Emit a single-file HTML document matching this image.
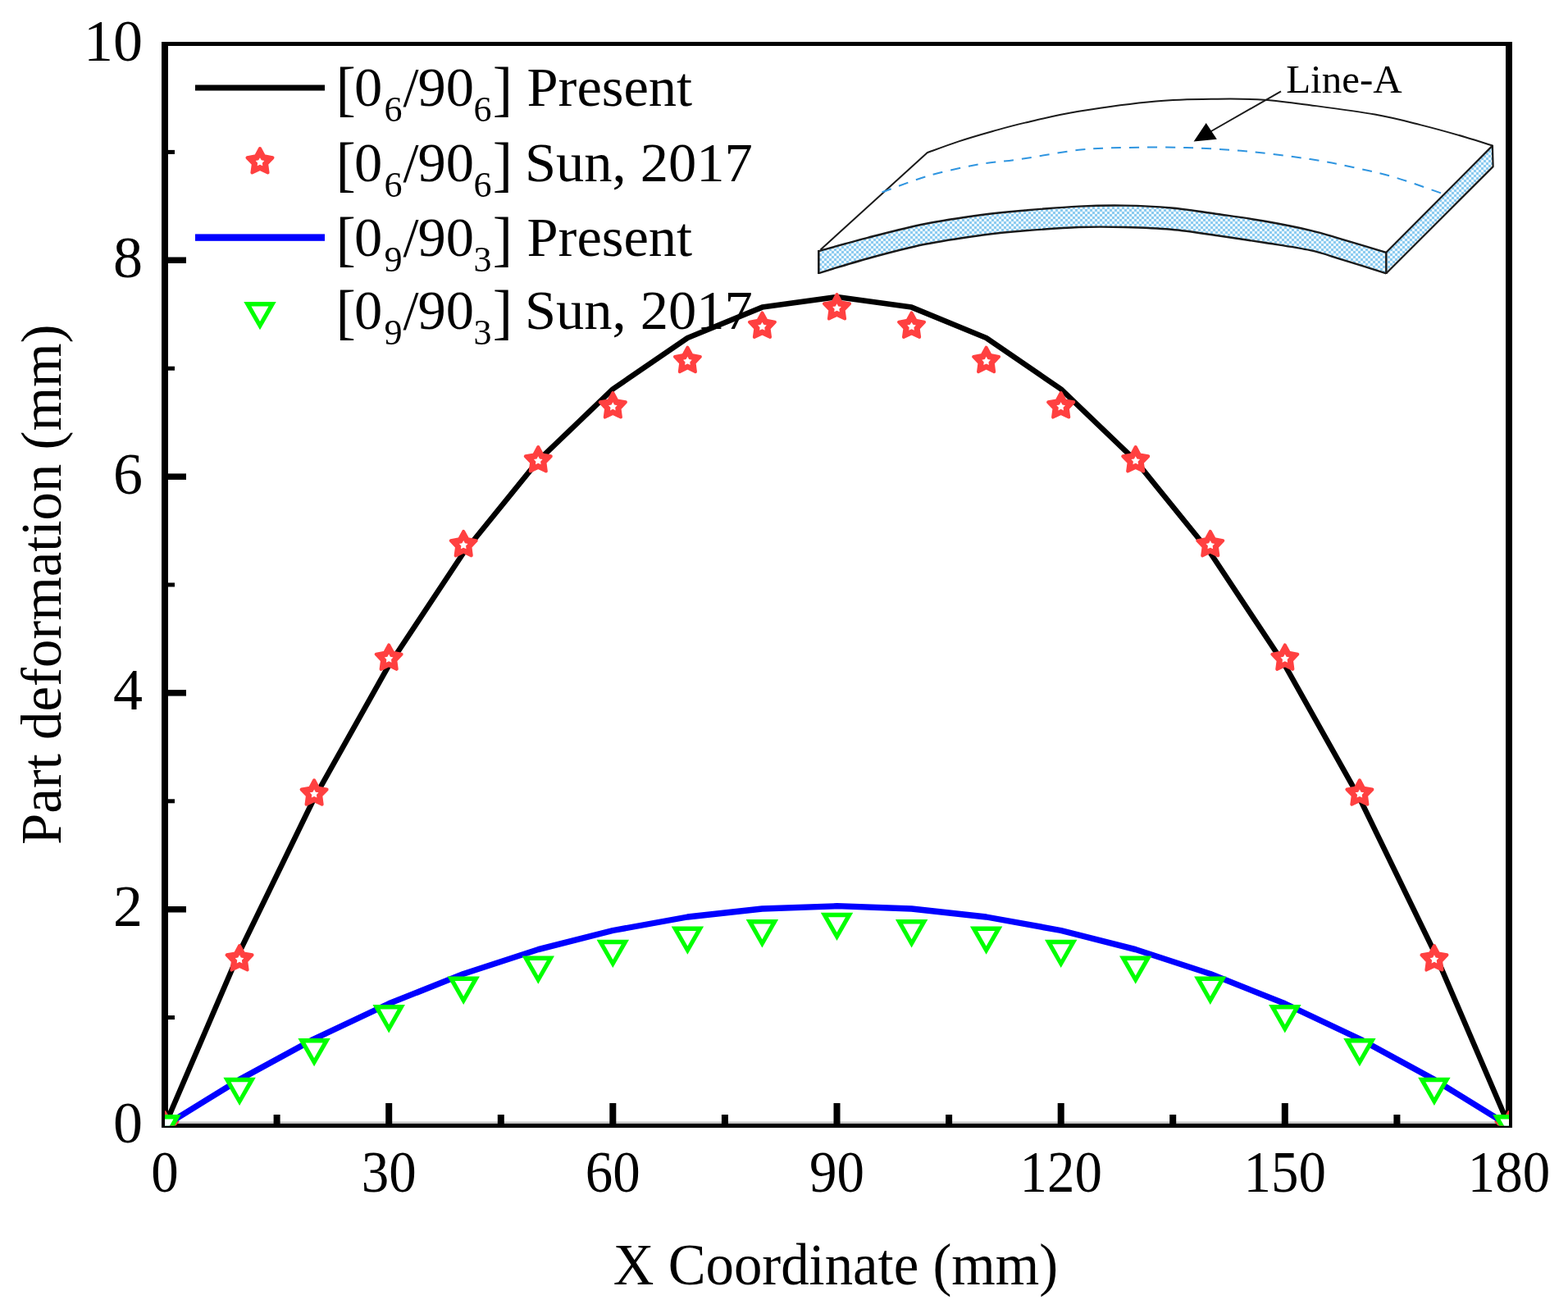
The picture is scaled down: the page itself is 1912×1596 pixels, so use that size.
<!DOCTYPE html>
<html><head><meta charset="utf-8"><title>Part deformation chart</title><style>html,body{margin:0;padding:0;background:#fff;}svg{display:block;}</style></head><body>
<svg width="1912" height="1596" viewBox="0 0 1912 1596">
<defs><clipPath id="pc"><rect x="201.0" y="53.5" width="1639.0" height="1319.0"/></clipPath>
<pattern id="hatch" width="6" height="6" patternUnits="userSpaceOnUse"><rect width="6" height="6" fill="#eef8fd"/><rect width="3" height="3" fill="#8ccbf0"/><rect x="3" y="3" width="3" height="3" fill="#8ccbf0"/></pattern></defs>
<rect width="1912" height="1596" fill="#ffffff"/>
<path d="M998.3,306.1 C1008.4,303.4 1037.3,295.1 1058.9,289.6 C1080.5,284.1 1104.9,277.6 1127.9,273.0 C1150.9,268.4 1176.5,264.8 1196.8,262.0 C1217.1,259.2 1230.2,258.2 1250.0,256.5 C1269.8,254.8 1295.0,252.6 1315.3,251.6 C1335.6,250.6 1353.0,250.3 1371.8,250.6 C1390.6,250.9 1409.5,251.8 1428.3,253.5 C1447.1,255.2 1466.0,258.3 1484.8,261.0 C1503.6,263.7 1522.5,266.2 1541.3,269.5 C1560.1,272.8 1582.1,277.2 1597.7,280.8 C1613.3,284.4 1619.7,286.8 1635.1,291.3 C1650.5,295.8 1681.1,305.1 1690.3,307.8 L1690.3,333.3 C1681.1,330.4 1650.5,320.8 1635.1,316.1 C1619.7,311.4 1613.3,308.6 1597.7,305.2 C1582.1,301.8 1560.1,298.8 1541.3,295.8 C1522.5,292.8 1503.6,290.0 1484.8,287.3 C1466.0,284.6 1447.1,281.5 1428.3,279.8 C1409.5,278.1 1390.6,277.5 1371.8,277.0 C1353.0,276.5 1335.6,276.3 1315.3,277.0 C1295.0,277.7 1269.8,279.7 1250.0,281.3 C1230.2,282.9 1217.1,284.1 1196.8,286.8 C1176.5,289.6 1150.9,293.1 1127.9,297.8 C1104.9,302.5 1080.5,309.1 1058.9,315.0 C1037.3,320.9 1008.4,330.0 998.3,333.0 Z" fill="url(#hatch)" stroke="none"/>
<polygon points="1690.3,307.8 1819.9,177.6 1820.6,203.1 1690.3,333.3" fill="url(#hatch)" stroke="none"/>
<path d="M1000.5,304.5 L1130.6,186.2 L1130.6,186.2 C1137.0,183.9 1155.9,176.8 1169.2,172.4 C1182.5,168.0 1197.1,163.8 1210.6,160.0 C1224.1,156.2 1232.5,153.6 1250.0,149.6 C1267.5,145.6 1288.7,140.2 1315.3,135.8 C1341.9,131.5 1381.2,126.0 1409.5,123.5 C1437.8,121.0 1462.8,121.0 1484.8,120.7 C1506.8,120.4 1522.5,120.5 1541.3,121.7 C1560.1,123.0 1575.2,125.2 1597.7,128.2 C1620.2,131.2 1654.2,135.6 1676.5,139.6 C1698.8,143.6 1713.2,147.5 1731.6,152.1 C1750.0,156.7 1772.1,162.9 1786.8,167.2 C1801.5,171.4 1814.4,175.9 1819.9,177.6" fill="none" stroke="#1a1a1a" stroke-width="2" stroke-linejoin="round"/>
<path d="M998.3,306.1 C1008.4,303.4 1037.3,295.1 1058.9,289.6 C1080.5,284.1 1104.9,277.6 1127.9,273.0 C1150.9,268.4 1176.5,264.8 1196.8,262.0 C1217.1,259.2 1230.2,258.2 1250.0,256.5 C1269.8,254.8 1295.0,252.6 1315.3,251.6 C1335.6,250.6 1353.0,250.3 1371.8,250.6 C1390.6,250.9 1409.5,251.8 1428.3,253.5 C1447.1,255.2 1466.0,258.3 1484.8,261.0 C1503.6,263.7 1522.5,266.2 1541.3,269.5 C1560.1,272.8 1582.1,277.2 1597.7,280.8 C1613.3,284.4 1619.7,286.8 1635.1,291.3 C1650.5,295.8 1681.1,305.1 1690.3,307.8" fill="none" stroke="#1a1a1a" stroke-width="2.4"/>
<path d="M998.3,333.0 C1008.4,330.0 1037.3,320.9 1058.9,315.0 C1080.5,309.1 1104.9,302.5 1127.9,297.8 C1150.9,293.1 1176.5,289.6 1196.8,286.8 C1217.1,284.1 1230.2,282.9 1250.0,281.3 C1269.8,279.7 1295.0,277.7 1315.3,277.0 C1335.6,276.3 1353.0,276.5 1371.8,277.0 C1390.6,277.5 1409.5,278.1 1428.3,279.8 C1447.1,281.5 1466.0,284.6 1484.8,287.3 C1503.6,290.0 1522.5,292.8 1541.3,295.8 C1560.1,298.8 1582.1,301.8 1597.7,305.2 C1613.3,308.6 1619.7,311.4 1635.1,316.1 C1650.5,320.8 1681.1,330.4 1690.3,333.3" fill="none" stroke="#1a1a1a" stroke-width="2.4"/>
<polyline points="998.3,305.0 998.3,334.0" fill="none" stroke="#1a1a1a" stroke-width="2.6"/>
<polyline points="1690.3,307.0 1690.3,334.0" fill="none" stroke="#1a1a1a" stroke-width="2.4"/>
<polyline points="1690.3,307.8 1819.9,177.6 1820.6,203.1 1690.3,333.3" fill="none" stroke="#1a1a1a" stroke-width="2.2" stroke-linejoin="round"/>
<path d="M1075.5,234.4 C1084.6,231.2 1110.9,220.6 1130.0,215.0 C1149.1,209.4 1171.0,204.5 1190.0,201.0 C1209.0,197.5 1222.9,197.1 1243.8,194.1 C1264.7,191.1 1294.0,185.2 1315.3,182.8 C1336.6,180.5 1349.8,180.5 1371.8,180.0 C1393.8,179.5 1421.9,179.2 1447.0,180.0 C1472.1,180.8 1497.3,182.3 1522.4,184.7 C1547.5,187.0 1576.4,190.9 1597.7,194.1 C1619.0,197.3 1633.0,200.3 1650.0,204.0 C1667.0,207.7 1681.8,210.7 1700.0,216.0 C1718.2,221.3 1749.3,232.8 1759.2,236.1" fill="none" stroke="#2f95e0" stroke-width="2" stroke-dasharray="12 10"/>
<line x1="1562" y1="111.3" x2="1476" y2="160.5" stroke="#1a1a1a" stroke-width="2"/>
<polygon points="1455.6,172.5 1470.7,149.9 1483.8,169.7" fill="#000"/>
<text x="1568.2" y="113.2" font-family="Liberation Serif, serif" font-size="49" fill="#000">Line-A</text>
<g fill="#000">
<rect x="197" y="51" width="8" height="1324"/>
<rect x="1836" y="51" width="8" height="1324"/>
<rect x="197" y="51" width="1647" height="5"/>
<rect x="197" y="1370" width="1647" height="5"/>
<rect x="205" y="1367.5" width="1631" height="2.5" fill="#c4c4c4"/>
<rect x="205" y="1238.1" width="8" height="5"/>
<rect x="205" y="1105.0" width="22" height="7.5"/>
<rect x="205" y="974.3" width="8" height="5"/>
<rect x="205" y="841.1" width="22" height="7.5"/>
<rect x="205" y="710.5" width="8" height="5"/>
<rect x="205" y="577.4" width="22" height="7.5"/>
<rect x="205" y="446.7" width="8" height="5"/>
<rect x="205" y="313.5" width="22" height="7.5"/>
<rect x="205" y="182.9" width="8" height="5"/>
<rect x="197.0" y="1345" width="8" height="25"/>
<rect x="333.6" y="1359" width="8" height="11"/>
<rect x="470.2" y="1345" width="8" height="25"/>
<rect x="606.8" y="1359" width="8" height="11"/>
<rect x="743.3" y="1345" width="8" height="25"/>
<rect x="879.9" y="1359" width="8" height="11"/>
<rect x="1016.5" y="1345" width="8" height="25"/>
<rect x="1153.1" y="1359" width="8" height="11"/>
<rect x="1289.7" y="1345" width="8" height="25"/>
<rect x="1426.2" y="1359" width="8" height="11"/>
<rect x="1562.8" y="1345" width="8" height="25"/>
<rect x="1699.4" y="1359" width="8" height="11"/>
<rect x="1836.0" y="1345" width="8" height="25"/>
</g>
<g clip-path="url(#pc)">
<polyline points="201.0,1372.5 292.1,1160.5 383.1,973.3 474.2,811.2 565.2,674.0 656.3,561.7 747.3,474.4 838.4,412.0 929.4,374.6 1020.5,362.1 1111.6,374.6 1202.6,412.0 1293.7,474.4 1384.7,561.7 1475.8,674.0 1566.8,811.2 1657.9,973.3 1748.9,1160.5 1840.0,1372.5" fill="none" stroke="#000" stroke-width="6.6" stroke-linejoin="round"/>
<path d="M201.00,1356.20 L206.05,1365.54 L216.50,1367.46 L209.18,1375.16 L210.58,1385.69 L201.00,1381.10 L191.42,1385.69 L192.82,1375.16 L185.50,1367.46 L195.95,1365.54 Z" fill="#ff4040" stroke="#ff4040" stroke-width="4" stroke-linejoin="round"/><path d="M201.00,1367.40 L202.76,1370.57 L206.33,1371.27 L203.85,1373.93 L204.29,1377.53 L201.00,1376.00 L197.71,1377.53 L198.15,1373.93 L195.67,1371.27 L199.24,1370.57 Z" fill="#fff"/>
<path d="M292.06,1153.07 L297.11,1162.42 L307.56,1164.34 L300.23,1172.03 L301.64,1182.56 L292.06,1177.97 L282.47,1182.56 L283.88,1172.03 L276.55,1164.34 L287.00,1162.42 Z" fill="#ff4040" stroke="#ff4040" stroke-width="4" stroke-linejoin="round"/><path d="M292.06,1164.27 L293.82,1167.45 L297.38,1168.14 L294.91,1170.80 L295.35,1174.40 L292.06,1172.87 L288.76,1174.40 L289.20,1170.80 L286.73,1168.14 L290.29,1167.45 Z" fill="#fff"/>
<path d="M383.11,951.27 L388.17,960.61 L398.61,962.53 L391.29,970.22 L392.69,980.75 L383.11,976.17 L373.53,980.75 L374.93,970.22 L367.61,962.53 L378.06,960.61 Z" fill="#ff4040" stroke="#ff4040" stroke-width="4" stroke-linejoin="round"/><path d="M383.11,962.47 L384.87,965.64 L388.44,966.34 L385.96,968.99 L386.40,972.60 L383.11,971.07 L379.82,972.60 L380.26,968.99 L377.79,966.34 L381.35,965.64 Z" fill="#fff"/>
<path d="M474.17,786.39 L479.22,795.73 L489.67,797.66 L482.35,805.35 L483.75,815.88 L474.17,811.29 L464.59,815.88 L465.99,805.35 L458.66,797.66 L469.11,795.73 Z" fill="#ff4040" stroke="#ff4040" stroke-width="4" stroke-linejoin="round"/><path d="M474.17,797.59 L475.93,800.76 L479.49,801.46 L477.02,804.12 L477.46,807.72 L474.17,806.19 L470.88,807.72 L471.31,804.12 L468.84,801.46 L472.40,800.76 Z" fill="#fff"/>
<path d="M565.22,647.90 L570.28,657.24 L580.72,659.16 L573.40,666.85 L574.80,677.38 L565.22,672.80 L555.64,677.38 L557.04,666.85 L549.72,659.16 L560.17,657.24 Z" fill="#ff4040" stroke="#ff4040" stroke-width="4" stroke-linejoin="round"/><path d="M565.22,659.10 L566.99,662.27 L570.55,662.97 L568.08,665.62 L568.51,669.23 L565.22,667.70 L561.93,669.23 L562.37,665.62 L559.90,662.97 L563.46,662.27 Z" fill="#fff"/>
<path d="M656.28,545.01 L661.33,554.36 L671.78,556.28 L664.46,563.97 L665.86,574.50 L656.28,569.91 L646.70,574.50 L648.10,563.97 L640.78,556.28 L651.22,554.36 Z" fill="#ff4040" stroke="#ff4040" stroke-width="4" stroke-linejoin="round"/><path d="M656.28,556.21 L658.04,559.39 L661.60,560.08 L659.13,562.74 L659.57,566.35 L656.28,564.81 L652.99,566.35 L653.42,562.74 L650.95,560.08 L654.51,559.39 Z" fill="#fff"/>
<path d="M747.33,479.06 L752.39,488.41 L762.84,490.33 L755.51,498.02 L756.91,508.55 L747.33,503.97 L737.75,508.55 L739.15,498.02 L731.83,490.33 L742.28,488.41 Z" fill="#ff4040" stroke="#ff4040" stroke-width="4" stroke-linejoin="round"/><path d="M747.33,490.26 L749.10,493.44 L752.66,494.13 L750.19,496.79 L750.62,500.40 L747.33,498.87 L744.04,500.40 L744.48,496.79 L742.01,494.13 L745.57,493.44 Z" fill="#fff"/>
<path d="M838.39,423.67 L843.44,433.01 L853.89,434.93 L846.57,442.62 L847.97,453.15 L838.39,448.57 L828.81,453.15 L830.21,442.62 L822.89,434.93 L833.33,433.01 Z" fill="#ff4040" stroke="#ff4040" stroke-width="4" stroke-linejoin="round"/><path d="M838.39,434.87 L840.15,438.04 L843.71,438.74 L841.24,441.39 L841.68,445.00 L838.39,443.47 L835.10,445.00 L835.54,441.39 L833.06,438.74 L836.63,438.04 Z" fill="#fff"/>
<path d="M929.44,381.46 L934.50,390.80 L944.95,392.72 L937.62,400.42 L939.03,410.95 L929.44,406.36 L919.86,410.95 L921.27,400.42 L913.94,392.72 L924.39,390.80 Z" fill="#ff4040" stroke="#ff4040" stroke-width="4" stroke-linejoin="round"/><path d="M929.44,392.66 L931.21,395.83 L934.77,396.53 L932.30,399.19 L932.74,402.79 L929.44,401.26 L926.15,402.79 L926.59,399.19 L924.12,396.53 L927.68,395.83 Z" fill="#fff"/>
<path d="M1020.50,359.04 L1025.55,368.38 L1036.00,370.30 L1028.68,377.99 L1030.08,388.52 L1020.50,383.94 L1010.92,388.52 L1012.32,377.99 L1005.00,370.30 L1015.45,368.38 Z" fill="#ff4040" stroke="#ff4040" stroke-width="4" stroke-linejoin="round"/><path d="M1020.50,370.24 L1022.26,373.41 L1025.83,374.11 L1023.35,376.76 L1023.79,380.37 L1020.50,378.84 L1017.21,380.37 L1017.65,376.76 L1015.17,374.11 L1018.74,373.41 Z" fill="#fff"/>
<path d="M1111.56,381.46 L1116.61,390.80 L1127.06,392.72 L1119.73,400.42 L1121.14,410.95 L1111.56,406.36 L1101.97,410.95 L1103.38,400.42 L1096.05,392.72 L1106.50,390.80 Z" fill="#ff4040" stroke="#ff4040" stroke-width="4" stroke-linejoin="round"/><path d="M1111.56,392.66 L1113.32,395.83 L1116.88,396.53 L1114.41,399.19 L1114.85,402.79 L1111.56,401.26 L1108.26,402.79 L1108.70,399.19 L1106.23,396.53 L1109.79,395.83 Z" fill="#fff"/>
<path d="M1202.61,423.67 L1207.67,433.01 L1218.11,434.93 L1210.79,442.62 L1212.19,453.15 L1202.61,448.57 L1193.03,453.15 L1194.43,442.62 L1187.11,434.93 L1197.56,433.01 Z" fill="#ff4040" stroke="#ff4040" stroke-width="4" stroke-linejoin="round"/><path d="M1202.61,434.87 L1204.37,438.04 L1207.94,438.74 L1205.46,441.39 L1205.90,445.00 L1202.61,443.47 L1199.32,445.00 L1199.76,441.39 L1197.29,438.74 L1200.85,438.04 Z" fill="#fff"/>
<path d="M1293.67,479.06 L1298.72,488.41 L1309.17,490.33 L1301.85,498.02 L1303.25,508.55 L1293.67,503.97 L1284.09,508.55 L1285.49,498.02 L1278.16,490.33 L1288.61,488.41 Z" fill="#ff4040" stroke="#ff4040" stroke-width="4" stroke-linejoin="round"/><path d="M1293.67,490.26 L1295.43,493.44 L1298.99,494.13 L1296.52,496.79 L1296.96,500.40 L1293.67,498.87 L1290.38,500.40 L1290.81,496.79 L1288.34,494.13 L1291.90,493.44 Z" fill="#fff"/>
<path d="M1384.72,545.01 L1389.78,554.36 L1400.22,556.28 L1392.90,563.97 L1394.30,574.50 L1384.72,569.91 L1375.14,574.50 L1376.54,563.97 L1369.22,556.28 L1379.67,554.36 Z" fill="#ff4040" stroke="#ff4040" stroke-width="4" stroke-linejoin="round"/><path d="M1384.72,556.21 L1386.49,559.39 L1390.05,560.08 L1387.58,562.74 L1388.01,566.35 L1384.72,564.81 L1381.43,566.35 L1381.87,562.74 L1379.40,560.08 L1382.96,559.39 Z" fill="#fff"/>
<path d="M1475.78,647.90 L1480.83,657.24 L1491.28,659.16 L1483.96,666.85 L1485.36,677.38 L1475.78,672.80 L1466.20,677.38 L1467.60,666.85 L1460.28,659.16 L1470.72,657.24 Z" fill="#ff4040" stroke="#ff4040" stroke-width="4" stroke-linejoin="round"/><path d="M1475.78,659.10 L1477.54,662.27 L1481.10,662.97 L1478.63,665.62 L1479.07,669.23 L1475.78,667.70 L1472.49,669.23 L1472.92,665.62 L1470.45,662.97 L1474.01,662.27 Z" fill="#fff"/>
<path d="M1566.83,786.39 L1571.89,795.73 L1582.34,797.66 L1575.01,805.35 L1576.41,815.88 L1566.83,811.29 L1557.25,815.88 L1558.65,805.35 L1551.33,797.66 L1561.78,795.73 Z" fill="#ff4040" stroke="#ff4040" stroke-width="4" stroke-linejoin="round"/><path d="M1566.83,797.59 L1568.60,800.76 L1572.16,801.46 L1569.69,804.12 L1570.12,807.72 L1566.83,806.19 L1563.54,807.72 L1563.98,804.12 L1561.51,801.46 L1565.07,800.76 Z" fill="#fff"/>
<path d="M1657.89,951.27 L1662.94,960.61 L1673.39,962.53 L1666.07,970.22 L1667.47,980.75 L1657.89,976.17 L1648.31,980.75 L1649.71,970.22 L1642.39,962.53 L1652.83,960.61 Z" fill="#ff4040" stroke="#ff4040" stroke-width="4" stroke-linejoin="round"/><path d="M1657.89,962.47 L1659.65,965.64 L1663.21,966.34 L1660.74,968.99 L1661.18,972.60 L1657.89,971.07 L1654.60,972.60 L1655.04,968.99 L1652.56,966.34 L1656.13,965.64 Z" fill="#fff"/>
<path d="M1748.94,1153.07 L1754.00,1162.42 L1764.45,1164.34 L1757.12,1172.03 L1758.53,1182.56 L1748.94,1177.97 L1739.36,1182.56 L1740.77,1172.03 L1733.44,1164.34 L1743.89,1162.42 Z" fill="#ff4040" stroke="#ff4040" stroke-width="4" stroke-linejoin="round"/><path d="M1748.94,1164.27 L1750.71,1167.45 L1754.27,1168.14 L1751.80,1170.80 L1752.24,1174.40 L1748.94,1172.87 L1745.65,1174.40 L1746.09,1170.80 L1743.62,1168.14 L1747.18,1167.45 Z" fill="#fff"/>
<path d="M1840.00,1356.20 L1845.05,1365.54 L1855.50,1367.46 L1848.18,1375.16 L1849.58,1385.69 L1840.00,1381.10 L1830.42,1385.69 L1831.82,1375.16 L1824.50,1367.46 L1834.95,1365.54 Z" fill="#ff4040" stroke="#ff4040" stroke-width="4" stroke-linejoin="round"/><path d="M1840.00,1367.40 L1841.76,1370.57 L1845.33,1371.27 L1842.85,1373.93 L1843.29,1377.53 L1840.00,1376.00 L1836.71,1377.53 L1837.15,1373.93 L1834.67,1371.27 L1838.24,1370.57 Z" fill="#fff"/>
<polyline points="201.0,1372.5 292.1,1316.3 383.1,1266.7 474.2,1223.7 565.2,1187.4 656.3,1157.6 747.3,1134.5 838.4,1118.0 929.4,1108.0 1020.5,1104.7 1111.6,1108.0 1202.6,1118.0 1293.7,1134.5 1384.7,1157.6 1475.8,1187.4 1566.8,1223.7 1657.9,1266.7 1748.9,1316.3 1840.0,1372.5" fill="none" stroke="#0000ff" stroke-width="7.3" stroke-linejoin="round"/>
<polygon points="181.3,1359.0 220.7,1359.0 201.0,1393.3" fill="#00ff00"/><polygon points="190.5,1364.5 211.5,1364.5 201.0,1383.1" fill="#fff"/>
<polygon points="272.4,1313.8 311.8,1313.8 292.1,1348.1" fill="#00ff00"/><polygon points="281.6,1319.3 302.6,1319.3 292.1,1337.9" fill="#fff"/>
<polygon points="363.4,1266.0 402.8,1266.0 383.1,1300.3" fill="#00ff00"/><polygon points="372.6,1271.5 393.6,1271.5 383.1,1290.1" fill="#fff"/>
<polygon points="454.5,1225.1 493.9,1225.1 474.2,1259.4" fill="#00ff00"/><polygon points="463.7,1230.6 484.7,1230.6 474.2,1249.2" fill="#fff"/>
<polygon points="545.5,1190.6 584.9,1190.6 565.2,1224.9" fill="#00ff00"/><polygon points="554.7,1196.1 575.7,1196.1 565.2,1214.7" fill="#fff"/>
<polygon points="636.6,1165.5 676.0,1165.5 656.3,1199.8" fill="#00ff00"/><polygon points="645.8,1171.0 666.8,1171.0 656.3,1189.6" fill="#fff"/>
<polygon points="727.6,1145.8 767.0,1145.8 747.3,1180.1" fill="#00ff00"/><polygon points="736.8,1151.3 757.8,1151.3 747.3,1169.9" fill="#fff"/>
<polygon points="818.7,1129.4 858.1,1129.4 838.4,1163.7" fill="#00ff00"/><polygon points="827.9,1134.9 848.9,1134.9 838.4,1153.5" fill="#fff"/>
<polygon points="909.7,1121.1 949.1,1121.1 929.4,1155.4" fill="#00ff00"/><polygon points="918.9,1126.6 939.9,1126.6 929.4,1145.2" fill="#fff"/>
<polygon points="1000.8,1112.7 1040.2,1112.7 1020.5,1147.0" fill="#00ff00"/><polygon points="1010.0,1118.2 1031.0,1118.2 1020.5,1136.8" fill="#fff"/>
<polygon points="1091.9,1121.1 1131.3,1121.1 1111.6,1155.4" fill="#00ff00"/><polygon points="1101.1,1126.6 1122.1,1126.6 1111.6,1145.2" fill="#fff"/>
<polygon points="1182.9,1129.4 1222.3,1129.4 1202.6,1163.7" fill="#00ff00"/><polygon points="1192.1,1134.9 1213.1,1134.9 1202.6,1153.5" fill="#fff"/>
<polygon points="1274.0,1145.8 1313.4,1145.8 1293.7,1180.1" fill="#00ff00"/><polygon points="1283.2,1151.3 1304.2,1151.3 1293.7,1169.9" fill="#fff"/>
<polygon points="1365.0,1165.5 1404.4,1165.5 1384.7,1199.8" fill="#00ff00"/><polygon points="1374.2,1171.0 1395.2,1171.0 1384.7,1189.6" fill="#fff"/>
<polygon points="1456.1,1190.6 1495.5,1190.6 1475.8,1224.9" fill="#00ff00"/><polygon points="1465.3,1196.1 1486.3,1196.1 1475.8,1214.7" fill="#fff"/>
<polygon points="1547.1,1225.1 1586.5,1225.1 1566.8,1259.4" fill="#00ff00"/><polygon points="1556.3,1230.6 1577.3,1230.6 1566.8,1249.2" fill="#fff"/>
<polygon points="1638.2,1266.0 1677.6,1266.0 1657.9,1300.3" fill="#00ff00"/><polygon points="1647.4,1271.5 1668.4,1271.5 1657.9,1290.1" fill="#fff"/>
<polygon points="1729.2,1313.8 1768.6,1313.8 1748.9,1348.1" fill="#00ff00"/><polygon points="1738.4,1319.3 1759.4,1319.3 1748.9,1337.9" fill="#fff"/>
<polygon points="1820.3,1359.0 1859.7,1359.0 1840.0,1393.3" fill="#00ff00"/><polygon points="1829.5,1364.5 1850.5,1364.5 1840.0,1383.1" fill="#fff"/>
</g>
<text x="174" y="1393.0" text-anchor="end" font-family="Liberation Serif, serif" font-size="72">0</text>
<text x="174" y="1129.2" text-anchor="end" font-family="Liberation Serif, serif" font-size="72">2</text>
<text x="174" y="865.4" text-anchor="end" font-family="Liberation Serif, serif" font-size="72">4</text>
<text x="174" y="601.6" text-anchor="end" font-family="Liberation Serif, serif" font-size="72">6</text>
<text x="174" y="337.8" text-anchor="end" font-family="Liberation Serif, serif" font-size="72">8</text>
<text x="174" y="74.0" text-anchor="end" font-family="Liberation Serif, serif" font-size="72">10</text>
<text transform="translate(201.0,1453.3) scale(0.930,1)" text-anchor="middle" font-family="Liberation Serif, serif" font-size="72">0</text>
<text transform="translate(474.2,1453.3) scale(0.930,1)" text-anchor="middle" font-family="Liberation Serif, serif" font-size="72">30</text>
<text transform="translate(747.3,1453.3) scale(0.930,1)" text-anchor="middle" font-family="Liberation Serif, serif" font-size="72">60</text>
<text transform="translate(1020.5,1453.3) scale(0.930,1)" text-anchor="middle" font-family="Liberation Serif, serif" font-size="72">90</text>
<text transform="translate(1293.7,1453.3) scale(0.930,1)" text-anchor="middle" font-family="Liberation Serif, serif" font-size="72">120</text>
<text transform="translate(1566.8,1453.3) scale(0.930,1)" text-anchor="middle" font-family="Liberation Serif, serif" font-size="72">150</text>
<text transform="translate(1840.0,1453.3) scale(0.930,1)" text-anchor="middle" font-family="Liberation Serif, serif" font-size="72">180</text>
<text transform="translate(1019,1566.4) scale(0.958,1)" text-anchor="middle" font-family="Liberation Serif, serif" font-size="71.8">X Coordinate (mm)</text>
<text transform="translate(74,712.8) rotate(-90) scale(0.98,1)" text-anchor="middle" font-family="Liberation Serif, serif" font-size="70.2">Part deformation (mm)</text>
<rect x="238" y="103.5" width="158" height="7" fill="#000"/>
<path d="M317.00,181.00 L322.05,190.34 L332.50,192.26 L325.18,199.96 L326.58,210.49 L317.00,205.90 L307.42,210.49 L308.82,199.96 L301.50,192.26 L311.95,190.34 Z" fill="#ff4040" stroke="#ff4040" stroke-width="4" stroke-linejoin="round"/><path d="M317.00,192.20 L318.76,195.37 L322.33,196.07 L319.85,198.73 L320.29,202.33 L317.00,200.80 L313.71,202.33 L314.15,198.73 L311.67,196.07 L315.24,195.37 Z" fill="#fff"/>
<rect x="238" y="285.4" width="158" height="8.4" fill="#0000ff"/>
<polygon points="297.3,368.0 336.7,368.0 317.0,402.3" fill="#00ff00"/><polygon points="306.5,373.5 327.5,373.5 317.0,392.1" fill="#fff"/>
<text font-family="Liberation Serif, serif" font-size="68.5"><tspan x="409.6" y="133.4" font-size="73">[</tspan><tspan x="431.9" y="129.3">0</tspan><tspan x="468.4" y="148.3" font-size="44">6</tspan><tspan x="491.6" y="129.3">/</tspan><tspan x="509.5" y="129.3">90</tspan><tspan x="577.6" y="148.3" font-size="44">6</tspan><tspan x="600.7" y="133.4" font-size="73">]</tspan><tspan x="642.5" y="129.3">Present</tspan></text>
<text font-family="Liberation Serif, serif" font-size="68.5"><tspan x="409.6" y="224.9" font-size="73">[</tspan><tspan x="431.9" y="220.8">0</tspan><tspan x="468.4" y="239.8" font-size="44">6</tspan><tspan x="491.6" y="220.8">/</tspan><tspan x="509.5" y="220.8">90</tspan><tspan x="577.6" y="239.8" font-size="44">6</tspan><tspan x="600.7" y="224.9" font-size="73">]</tspan><tspan x="639.9" y="220.8">Sun, 2017</tspan></text>
<text font-family="Liberation Serif, serif" font-size="68.5"><tspan x="409.6" y="315.6" font-size="73">[</tspan><tspan x="431.9" y="311.5">0</tspan><tspan x="468.4" y="330.5" font-size="44">9</tspan><tspan x="491.6" y="311.5">/</tspan><tspan x="509.5" y="311.5">90</tspan><tspan x="577.6" y="330.5" font-size="44">3</tspan><tspan x="600.7" y="315.6" font-size="73">]</tspan><tspan x="642.5" y="311.5">Present</tspan></text>
<text font-family="Liberation Serif, serif" font-size="68.5"><tspan x="409.6" y="405.3" font-size="73">[</tspan><tspan x="431.9" y="401.2">0</tspan><tspan x="468.4" y="420.2" font-size="44">9</tspan><tspan x="491.6" y="401.2">/</tspan><tspan x="509.5" y="401.2">90</tspan><tspan x="577.6" y="420.2" font-size="44">3</tspan><tspan x="600.7" y="405.3" font-size="73">]</tspan><tspan x="639.9" y="401.2">Sun, 2017</tspan></text>
</svg>
</body></html>
